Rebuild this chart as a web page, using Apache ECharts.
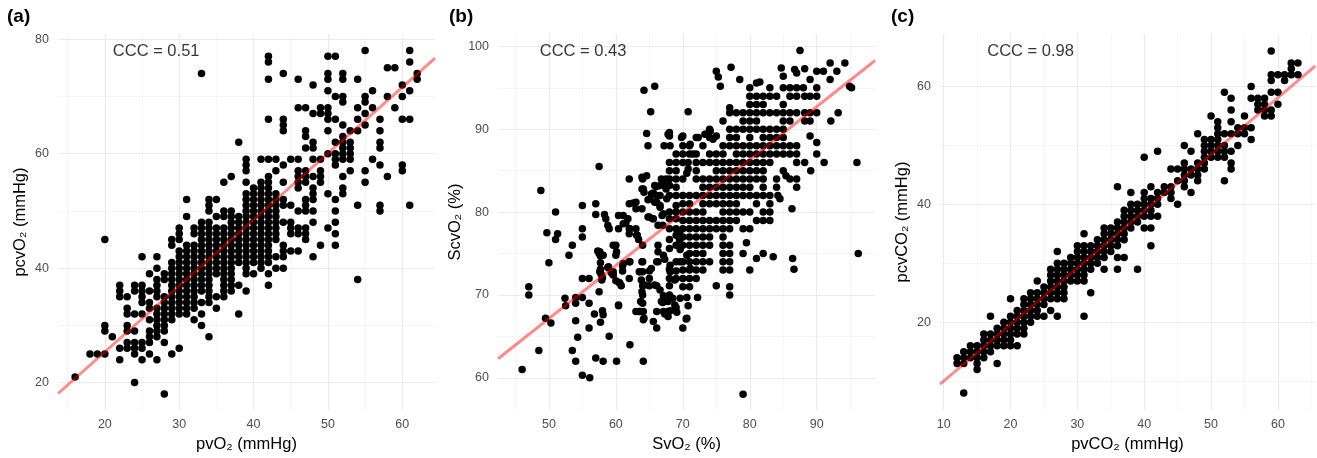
<!DOCTYPE html>
<html>
<head>
<meta charset="utf-8">
<title>CCC scatter panels</title>
<script src="https://cdn.jsdelivr.net/npm/echarts@6.0.0/dist/echarts.min.js"></script>
<style>
  html, body { margin: 0; padding: 0; background: #fff; }
  #chart { width: 1317px; height: 458px; }
</style>
</head>
<body>
<div id="chart"></div>
<script>
// (a) pvO2 vs pcvO2 : [pvO2, [pcvO2 values]]
const aColumns = [
  [16, [21]], [18, [25]], [19, [25]], [20, [45, 30, 29, 25]], [21, [28]],
  [22, [37, 36, 35, 26, 24]],
  [23, [35, 33, 32, 30, 29, 27, 26]],
  [24, [37, 36, 32, 29, 27, 26, 25, 20]],
  [25, [42, 37, 36, 35, 34, 32, 27, 26, 24]],
  [26, [39, 36, 34, 33, 31, 29, 28, 27, 25]],
  [27, [42, 40, 38, 37, 36, 35, 33, 32, 31, 30, 29, 28, 24]],
  [28, [39, 38, 35, 34, 33, 32, 31, 30, 29, 27, 18]],
  [29, [45, 44, 41, 40, 39, 38, 37, 36, 35, 34, 33, 32, 31, 25]],
  [30, [47, 46, 45, 43, 42, 41, 40, 39, 38, 37, 36, 35, 34, 33, 32, 26]],
  [31, [52, 49, 44, 43, 42, 41, 40, 39, 38, 37, 36, 35, 34, 33, 32]],
  [32, [47, 46, 44, 43, 42, 41, 40, 39, 38, 37, 36, 35, 34, 33, 31]],
  [33, [74, 48, 47, 46, 45, 44, 43, 42, 41, 40, 39, 38, 37, 36, 34, 32, 30]],
  [34, [52, 51, 50, 48, 47, 46, 45, 44, 43, 42, 41, 40, 39, 38, 37, 36, 35, 34, 28]],
  [35, [52, 49, 47, 46, 45, 44, 43, 42, 41, 40, 39, 35, 33]],
  [36, [55, 50, 49, 47, 46, 45, 44, 43, 42, 41, 40, 39, 38, 37, 36, 35]],
  [37, [56, 50, 49, 48, 47, 46, 45, 44, 43, 42, 41, 40, 39, 38, 37, 36]],
  [38, [62, 49, 48, 47, 46, 45, 44, 43, 42, 41, 37, 32]],
  [39, [59, 58, 57, 55, 53, 52, 51, 50, 49, 48, 47, 46, 45, 44, 43, 42, 41, 40, 39, 36]],
  [40, [54, 53, 52, 51, 50, 49, 48, 47, 46, 45, 44, 43, 42, 41, 39]],
  [41, [59, 55, 54, 53, 52, 51, 50, 49, 48, 47, 46, 45, 44, 43, 42, 41, 40]],
  [42, [77, 76, 73, 66, 59, 56, 55, 54, 53, 52, 51, 50, 49, 48, 47, 46, 45, 44, 43, 42, 41, 39, 37]],
  [43, [59, 57, 53, 52, 51, 50, 49, 48, 47, 46, 45, 42, 40]],
  [44, [74, 66, 65, 64, 58, 55, 52, 51, 48, 44, 43, 42, 40]],
  [45, [59, 51, 48, 47, 46, 43]],
  [46, [73, 68, 59, 57, 56, 55, 54, 50, 47, 46, 43]],
  [47, [68, 64, 63, 61, 57, 56, 55, 52, 51, 50, 47, 46, 45]],
  [48, [72, 67, 62, 61, 59, 56, 54, 53, 52, 50, 48, 42]],
  [49, [68, 67, 59, 57, 56, 55, 44]],
  [50, [77, 74, 73, 71, 68, 67, 66, 64, 60, 53, 47]],
  [51, [77, 70, 66, 62, 60, 59, 58, 52, 50, 48, 46, 44]],
  [52, [74, 73, 70, 69, 65, 63, 62, 61, 60, 59, 56, 54, 53]],
  [53, [64, 62, 61, 60, 59, 57]],
  [54, [73, 68, 66, 64, 51, 38]],
  [55, [78, 70, 69, 67, 65, 57, 55]],
  [56, [71, 68, 59]],
  [57, [66, 64, 62, 61, 58, 51, 50]],
  [58, [75, 70, 56]],
  [59, [75, 68]],
  [60, [72, 70, 66, 58, 57]],
  [61, [78, 76, 71, 66, 51]],
  [62, [74, 73]]
];
const aFit = [[13.7, 18.1], [64.4, 76.7]];
const aXLabels = [20, 30, 40, 50, 60];
const aXMinor = [15, 25, 35, 45, 55];
const aYLabels = [20, 40, 60, 80];
const aYMinor = [30, 50, 70];

// (b) SvO2 vs ScvO2 : [SvO2, ScvO2]
const bPoints = [
  [46,61],[47,71],[47,70],[48.5,63.3],[48.8,82.6],[49.5,67.2],[49.7,77.5],[50,73.9],[50.3,66.6],[51,80],
  [51,76.7],[51.3,77.4],[52.4,69.6],[52.5,68.7],[53,74.8],[53.5,76],[53.5,63.3],[54,69.7],[54,69],[54,66.9],
  [54.3,64.9],[54,62],[55,80.8],[55,78],[55,77],[55,72],[55,69.7],[55,60.3],[56,72],[56,69],[56,66],[56.1,60],
  [57,81],[57,79.7],[57.3,75.3],[57.5,75],[57.5,70.4],[56.8,67.7],[57,62.4],[57.5,85.5],[57.7,74.7],[57.7,73.9],
  [57.7,73.1],[57.8,72.5],[58,72.1],[57.7,66.7],[58,68.1],[58.1,67.6],[58.1,62],[58.3,79.7],[58.5,79.2],[58.8,78.4],
  [59,78],[59,65],[58.8,73.3],[59.3,72.7],[59.6,72.5],[60,74.8],[60,76],[60.4,79.6],[60.4,78],[60,71.7],
  [60.5,71.5],[60.8,71.1],[60.4,68.7],[60.1,62],[61,73.5],[61,72.9],[61.1,79.6],[61.5,78.7],[61.8,79.2],[62,78],
  [62,77.4],[62,84],[62,81],[62,74],[62,72],[62.1,64],[63,81.2],[63,80.4],[63,78],[63.2,77.2],[63.4,76.7],
  [63,68],[63.6,68],[64,84],[64.1,82.8],[64.2,82.4],[64,76],[64,74],[64,72.8],[64,71.1],[64,70],[64,69],
  [64.1,68],[64.1,67],[64.1,62],[63.5,72.8],[64.2,94.7],[64.6,84.4],[64.8,81.5],[65,79.4],[64.6,89.5],[64.8,88],
  [65,72.9],[65,72],[65,71.1],[65.2,92.1],[65.5,79.2],[65.6,82.3],[65.8,83.2],[66.1,82],[66.1,81.2],[65.8,95.2],
  [65.6,66.8],[66.1,66],[66.1,68],[66.3,76],[66.3,75.2],[66.3,74],[66.1,71.1],[66.6,83.2],[66.6,82],[66.6,80.8],
  [66.9,79.6],[67,78.4],[67,69.1],[67.1,69.9],[67.2,88],[67.3,74.3],[67.5,84],[67.5,82.8],[67.6,81.6],[67.3,67.7],
  [67.8,68],[68.1,68.1],[68,89.2],[68,89.6],[68,86],[68,85],[68,84],[68,83.2],[68,82],[68,80],[68,79.2],[68,78],
  [68,76.7],[68,75.6],[68,73.1],[68,72],[68,71.1],[68,70],[68.5,69.6],[69,68.5],[69.1,67.9],[69,87],[69,86],
  [69,85],[69,84],[69,83],[69,82],[69,80.8],[69,80],[69,79.2],[69,78],[69,77.2],[69,76],[69,74],[69,72.9],
  [69,72],[69.5,77.4],[69.5,76.7],[69.6,75.5],[70,89.2],[70,88],[70,87],[70,86],[70,84],[70,82],[70,81],
  [70,80],[70,79],[70,78],[70,77],[70,76],[70,74],[70,73],[70,72],[70,71],[70,66],[70.5,67.1],[70.6,69.7],
  [70.8,86],[70.8,85.2],[70.6,84.7],[71,87],[71,88],[71,82],[71,81],[71,80],[71,79],[71,78],[71,77],[71,76],
  [71,75],[71,74],[71,73],[71,72],[71,71],[70.8,92.1],[70.8,68.7],[71.5,87],[72,87],[72,86],[72,85],[72,84],
  [72,82],[72,80],[72,79],[72,78],[72,77],[72,76],[72,75],[72,74],[72,73],[72,72],[72,89],[72.2,69.7],
  [73,88],[73,86],[73,84],[73,83],[73,82],[73,81],[73,80],[73,79],[73,78],[73,77],[73,76],[73,75],[73,74],
  [73,73],[73.5,89.4],[74,90],[74,89],[74,87],[74,86],[74,84],[74,83],[74,82],[74,81],[74,79],[74,78],[74,77],
  [74,76],[74,74],[74.5,88.8],[75,89.2],[75,87],[75,86],[75,85],[75,84],[75,83],[75,82],[75,81],[75,79],
  [75,78],[75,71.1],[75,97],[75.3,96.3],[75.6,95.2],[76,91],[76,88],[76,87],[76,86],[76,85],[76,84],[76,83],
  [76,82],[76,81],[76,80],[76,79],[76,78],[76,77],[76,76],[76,75],[76,74],[76,73],[77,92.6],[77,92],[77,90],
  [77,89],[77,88],[77,86],[77,85],[77,84],[77,83],[77,82],[77,81],[77,80],[77,79],[77,78],[77,76],[77,75],
  [77,74],[77,73],[77,71],[77,70],[77.2,97.5],[78,92],[78,90],[78,89],[78,88],[78,87],[78,86],[78,85],[78,84],
  [78,83],[78,82],[78,81],[78,80],[78,79],[78.5,96],[79,92],[79,91],[79,90],[79,88],[79,87],[79,86],[79,85],
  [79,84],[79,83],[79,82],[79,80],[79,78],[79,75],[79,58],[79.5,76.3],[80,95],[80,94],[80,93],[80,92],[80,91],
  [80,90],[80,89],[80,88],[80,87],[80,86],[80,85],[80,84],[80,83],[80,82],[80,80],[80,78],[80,73],[81,95.6],
  [81,94],[81,93],[81,92],[81,91],[81,90],[81,88],[81,87],[81,86],[81,85],[81,84],[81,82],[81,81],[81,79],
  [81,74.4],[81.5,95.7],[82,94],[82,93],[82,92],[82,90],[82,89],[82,88],[82,87],[82,86],[82,85],[82,84],
  [82,83],[82,82],[82,80],[82,79],[82,75],[83,95],[83,94],[83,92],[83,90],[83,89],[83,88],[83,87],[83,86],
  [83,82],[83,81],[83,80],[83,79],[83.5,74.6],[84,94],[84,92],[84,90],[84,89],[84,88],[84,87],[84,84],[84,83],
  [84.2,82],[84.5,81.6],[84.7,97.4],[85,96.4],[85,95],[85,93],[85,92],[85,91],[85,90],[85,89],[85,88],[85,87],
  [85,85],[85.4,84.4],[86,95],[86,94],[86,92],[86,91],[86,88],[86,87],[86,84],[86.3,80.4],[86.4,74.4],
  [86.6,73.1],[86.7,97.2],[87,96.8],[87,95],[87,94],[87,92],[87,88],[87,87],[87,86],[87,84],[87,83],
  [87.5,99.5],[88,95],[88.2,97.3],[88.2,94],[88.2,92],[88.2,91],[88.2,86],[89,96],[89,94],[89,92],[89,91],
  [89,89.2],[89.1,85],[90,97],[90,95],[90,94],[90,92],[90,88.4],[90,87],[91,97],[91.1,86],[92,98],[92,96],
  [92.1,91],[93,97],[93.2,92],[94.2,98],[94.9,95.2],[95.2,95],[96,86],[96.2,75],
  // extra points read from the dense middle of the cloud
  [63.9,84.2],[63.9,82.8],[65.3,82.2],[66.1,83.1],[66.8,84],[67.3,83.2],[62.6,81.1],[63.9,80.4],[65.1,81.6],
  [65.8,81.2],[66.6,80.6],[67.1,79.8],[64.8,79.4],[65.6,79.2],[66.3,78.4],[63.1,77.2],[61.1,78.6],[62.1,78],
  [59.6,76],[60.1,75.2],[57.6,75.2],[58.1,74.8],[61.1,73.8],[62.1,74],[58.9,73.4],[59.6,72.8],[57.6,72.8],
  [57.9,71.8],[59.6,72.4],[60.6,71.4],[63.9,74],[65.3,73.2],[66.1,74],[67.1,74.8],[63.6,72.8],[63.8,71.8],
  [64.3,71.2],[63.9,70.4],[63.7,69.2],[63.5,68],[64.2,67.2],[65.8,71.2],[66.6,70.6],[66.8,69.2],[67.1,68],
  [67.8,69.2],[67.8,67.4],[68.8,68.8],[69.6,69.6],[70.6,67.2],[60.4,68.8],[68.1,73.6],[68.1,72.8],[68.8,71.8],
  [69.6,74],[70.6,74.8],[71.1,73.2],[67.8,89.4],[68.1,88],[69.8,89],[71.1,88.2],[72.3,89],[73.3,89.4],[74.1,89.8]
];
const bFit = [[42.4, 62.3], [98.7, 98.3]];
const bXLabels = [50, 60, 70, 80, 90];
const bXMinor = [45, 55, 65, 75, 85, 95];
const bYLabels = [60, 70, 80, 90, 100];
const bYMinor = [65, 75, 85, 95];

// (c) pvCO2 vs pcvCO2 : [pvCO2, [pcvCO2 values]]
const cColumns = [
  [12, [14, 13]], [13, [15, 14, 13, 8]], [14, [16, 15, 14]], [15, [16, 15, 14, 13, 12]],
  [16, [18, 17, 16, 15, 14]], [17, [21, 18, 17, 16, 15]], [18, [19, 18, 17, 16, 13]],
  [19, [20, 19, 18, 17, 16]], [20, [24, 21, 20, 19, 18, 17, 16]], [21, [22, 21, 20, 19, 18, 16]],
  [22, [24, 23, 22, 21, 20, 19, 18]], [23, [25, 24, 23, 22, 21, 20]], [24, [27, 25, 24, 23, 22, 21]],
  [25, [26, 25, 24, 23, 21]], [26, [29, 28, 27, 26, 25, 24, 22]],
  [27, [32, 30, 29, 28, 27, 26, 25, 24, 21]], [28, [30, 29, 28, 27, 26, 25, 24]],
  [29, [31, 30, 29, 28, 27]], [30, [33, 32, 31, 30, 29, 28, 27]],
  [31, [35, 33, 32, 31, 30, 29, 28, 27, 21]], [32, [33, 32, 31, 30, 29, 25]],
  [33, [34, 33, 32, 31, 30]], [34, [36, 35, 34, 33, 32, 31, 29]], [35, [36, 35, 34, 33, 32]],
  [36, [43, 37, 36, 35, 34, 33, 31, 29]], [37, [39, 38, 37, 36, 35, 34, 31]],
  [38, [42, 40, 39, 38, 37, 36]], [39, [40, 39, 38, 37, 29]], [40, [48, 42, 41, 40, 39, 38, 36]],
  [41, [43, 41, 40, 39, 38, 36, 33]], [42, [49, 42, 41, 40, 38]], [43, [43, 42]],
  [44, [46, 43, 42, 41]], [45, [46, 44, 40]], [46, [50, 47, 46, 45, 44, 43]], [47, [49, 46, 45, 42]],
  [48, [52, 47, 46, 45, 44]], [49, [51, 50, 49, 48, 47, 46]], [50, [55, 51, 50, 49, 48]],
  [51, [54, 53, 52, 51, 50, 49, 48]], [52, [59, 52, 50, 49, 48, 44]], [53, [58, 56, 54, 52, 49, 47, 46]],
  [54, [53, 52, 50]], [55, [55, 53, 52]], [56, [60, 58, 53, 51]], [57, [58, 57, 56]],
  [58, [58, 57, 56, 55]], [59, [66, 62, 61, 59, 56, 55]], [60, [62, 59, 57]], [61, [62, 61]],
  [62, [64, 63, 62]], [63, [64, 62]]
];
const cFit = [[9.45, 9.5], [65.6, 63.5]];
const cXLabels = [10, 20, 30, 40, 50, 60];
const cXMinor = [15, 25, 35, 45, 55, 65];
const cYLabels = [20, 40, 60];
const cYMinor = [10, 30, 50];

function flatten(cols) {
  const out = [];
  cols.forEach(([x, ys]) => ys.forEach(y => out.push([x, y])));
  return out;
}

const FONT = '"Liberation Sans", Arial, sans-serif';

const panels = [
  { tag: '(a)', tagLeft: 7, left: 58, width: 377,
    xMin: 13.7, xMax: 64.4, yMin: 15.2, yMax: 80.9,
    points: flatten(aColumns), fit: aFit,
    xLabels: aXLabels, xMinor: aXMinor, yLabels: aYLabels, yMinor: aYMinor,
    xName: 'pvO₂ (mmHg)', yName: 'pcvO₂ (mmHg)', ccc: 'CCC = 0.51', cccAt: [26.9, 77.8] },
  { tag: '(b)', tagLeft: 449, left: 498, width: 377,
    xMin: 42.4, xMax: 98.7, yMin: 56.1, yMax: 101.5,
    points: bPoints, fit: bFit,
    xLabels: bXLabels, xMinor: bXMinor, yLabels: bYLabels, yMinor: bYMinor,
    xName: 'SvO₂ (%)', yName: 'ScvO₂ (%)', ccc: 'CCC = 0.43', cccAt: [55.1, 99.4] },
  { tag: '(c)', tagLeft: 891, left: 940, width: 375,
    xMin: 9.45, xMax: 65.55, yMin: 5.1, yMax: 68.9,
    points: flatten(cColumns), fit: cFit,
    xLabels: cXLabels, xMinor: cXMinor, yLabels: cYLabels, yMinor: cYMinor,
    xName: 'pvCO₂ (mmHg)', yName: 'pcvCO₂ (mmHg)', ccc: 'CCC = 0.98', cccAt: [23, 65.9] }
];

const option = {
  animation: false,
  backgroundColor: '#fff',
  title: [], grid: [], xAxis: [], yAxis: [], series: []
};

panels.forEach((p, i) => {
  option.title.push({
    text: p.tag, left: p.tagLeft, top: 7, padding: 0,
    textStyle: { fontFamily: FONT, fontSize: 19, fontWeight: 'bold', color: '#000' }
  });
  option.grid.push({ left: p.left, top: 34, width: p.width, height: 379 });
  option.xAxis.push({
    gridIndex: i, type: 'value', min: p.xMin, max: p.xMax,
    axisLine: { show: false }, axisTick: { show: false }, splitLine: { show: false },
    axisLabel: { customValues: p.xLabels, color: '#4D4D4D', fontSize: 12.5, margin: 8, fontFamily: FONT },
    name: p.xName, nameLocation: 'middle', nameGap: 24,
    nameTextStyle: { fontSize: 16.5, color: '#000', fontFamily: FONT }
  });
  option.yAxis.push({
    gridIndex: i, type: 'value', min: p.yMin, max: p.yMax,
    axisLine: { show: false }, axisTick: { show: false }, splitLine: { show: false },
    axisLabel: { customValues: p.yLabels, color: '#4D4D4D', fontSize: 12.5, margin: 9, fontFamily: FONT },
    name: p.yName, nameLocation: 'middle', nameGap: 29,
    nameTextStyle: { fontSize: 16.5, color: '#000', fontFamily: FONT }
  });
  // grid lines (major + minor, ggplot minimal look), kept behind the points
  const major = { color: '#EBEBEB', width: 1.2, type: 'solid' };
  const minor = { color: '#F0F0F0', width: 0.7, type: 'solid' };
  option.series.push({
    type: 'line', xAxisIndex: i, yAxisIndex: i, data: [], silent: true, z: 0,
    markLine: {
      silent: true, z: 0, symbol: ['none', 'none'], label: { show: false }, animation: false,
      data: [
        ...p.xMinor.map(v => ({ xAxis: v, lineStyle: minor })),
        ...p.yMinor.map(v => ({ yAxis: v, lineStyle: minor })),
        ...p.xLabels.map(v => ({ xAxis: v, lineStyle: major })),
        ...p.yLabels.map(v => ({ yAxis: v, lineStyle: major }))
      ]
    }
  });
  option.series.push({
    type: 'scatter', xAxisIndex: i, yAxisIndex: i, data: p.points,
    symbolSize: 7.5, itemStyle: { color: '#000', opacity: 1 }, z: 2
  });
  option.series.push({
    type: 'line', xAxisIndex: i, yAxisIndex: i, data: p.fit,
    showSymbol: false, symbol: 'none', z: 3,
    lineStyle: { color: 'rgba(255,0,0,0.45)', width: 3 }
  });
  option.series.push({
    type: 'scatter', xAxisIndex: i, yAxisIndex: i, data: [p.cccAt],
    symbolSize: 0, silent: true, z: 4,
    label: { show: true, position: 'inside', formatter: p.ccc, color: '#000', fontSize: 16.5, fontFamily: FONT }
  });
});

const chart = echarts.init(document.getElementById('chart'));
chart.setOption(option);
</script>
</body>
</html>
